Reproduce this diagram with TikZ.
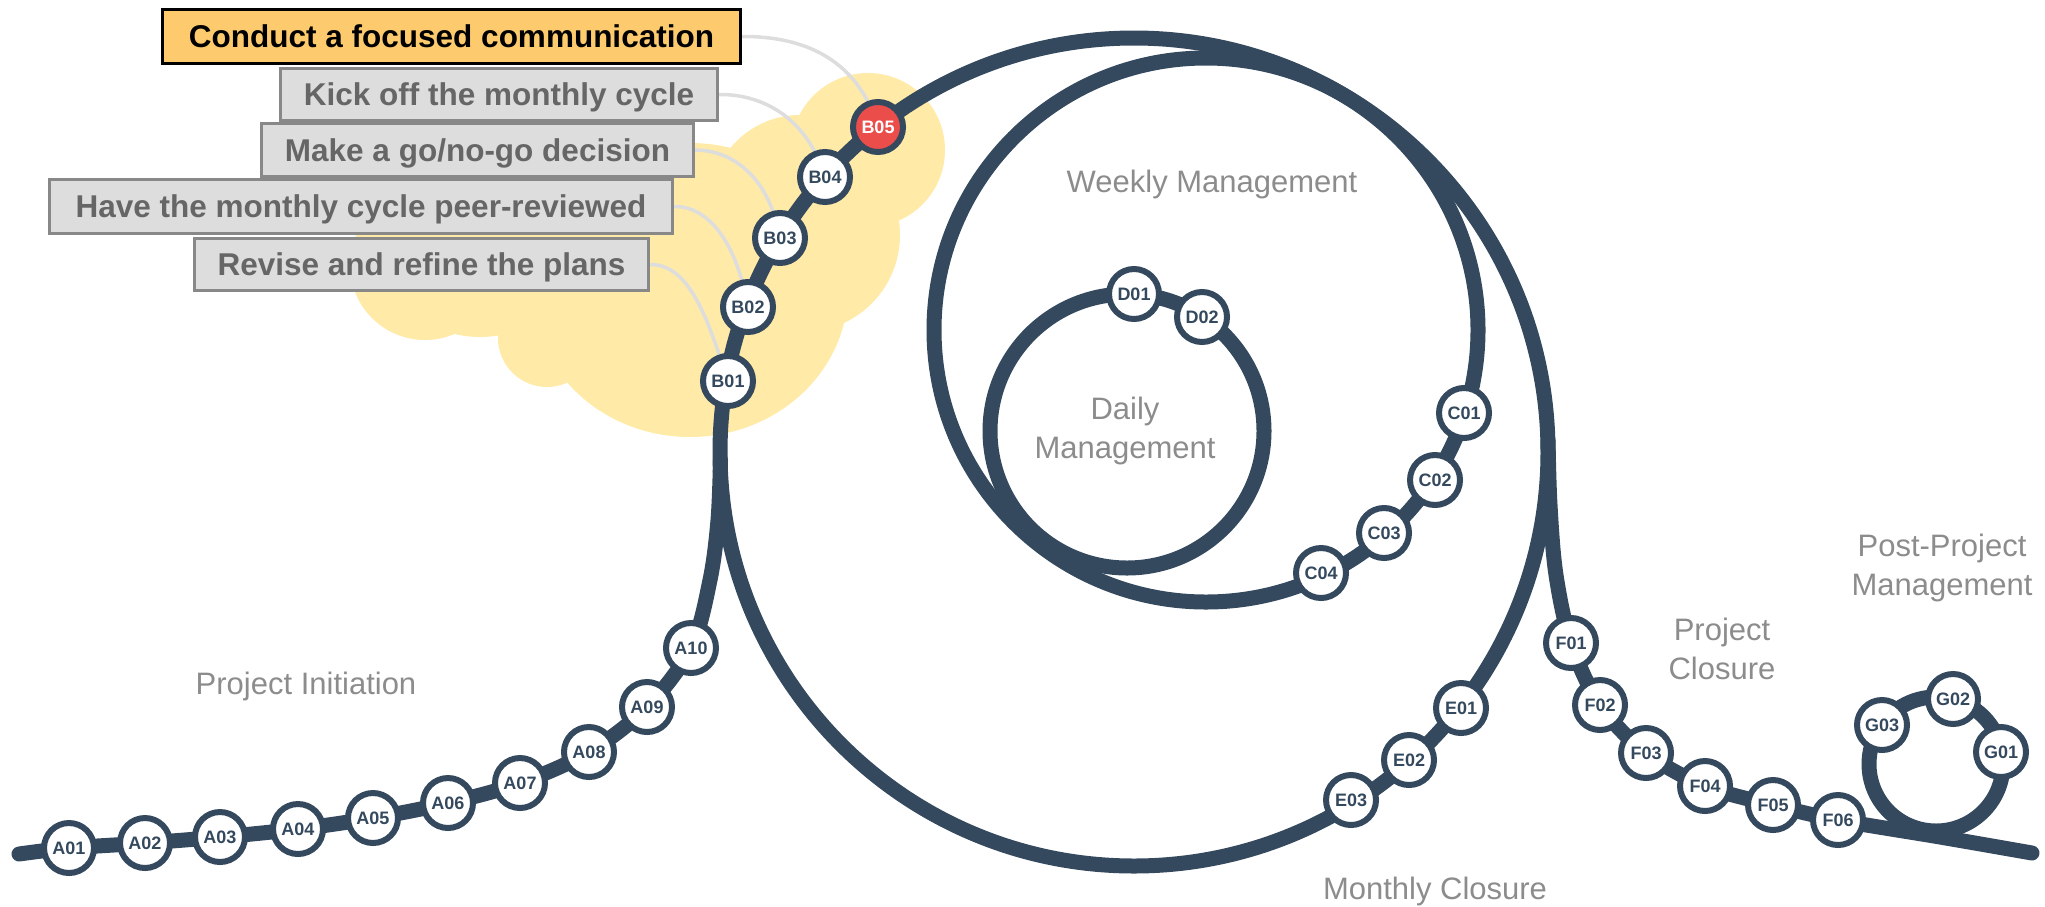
\documentclass[tikz,border=0pt]{standalone}
\usepackage{fontspec}
\setmainfont{Liberation Sans}
\definecolor{trackc}{HTML}{34495E}
\definecolor{redst}{HTML}{EB4D4B}
\definecolor{cloudc}{HTML}{FFEAA7}
\definecolor{hilite}{HTML}{FDCB6E}
\definecolor{boxfill}{HTML}{DDDDDD}
\definecolor{boxedge}{HTML}{888888}
\definecolor{boxtext}{HTML}{666666}
\definecolor{linkc}{HTML}{DDDDDD}
\definecolor{phasec}{HTML}{8C8C8C}
\pgfdeclarelayer{cloudl}
\pgfdeclarelayer{linkl}
\pgfdeclarelayer{trackl}
\pgfsetlayers{cloudl,linkl,trackl,main}
\begin{document}
\begin{tikzpicture}[x=1pt,y=-1pt,
  track/.style={draw=trackc,line width=15pt,line cap=round},
  station/.style={circle,draw=trackc,line width=6pt,fill=white,minimum size=50pt,inner sep=0pt,text=trackc,font=\fontsize{18}{18}\selectfont\bfseries},
  redstation/.style={station,fill=redst,text=white},
  taskbox/.style={draw=boxedge,line width=3pt,fill=boxfill,text=boxtext,inner sep=0pt,text height=22.5pt,text depth=0pt,font=\fontsize{31.5}{36}\selectfont\bfseries},
  focusbox/.style={taskbox,draw=black,fill=hilite,text=black},
  link/.style={draw=linkc,line width=3.5pt},
  phase/.style={text=phasec,font=\fontsize{31}{39}\selectfont,align=center,inner sep=0pt}
]
\useasboundingbox (0,0) rectangle (2045,906);

% loop centres and free ends
\coordinate (mc) at (1134,452);
\coordinate (wc) at (1206,330);
\coordinate (dc) at (1127,431);
\coordinate (gc) at (1936,764);
\coordinate (aStart) at (19,854);
\coordinate (aJ1) at (710,580);
\coordinate (aJ2) at (718,520);
\coordinate (aJ3) at (720.5,460);
\coordinate (fS1) at (1548,440);
\coordinate (fS2) at (1550,505);
\coordinate (fS3) at (1556,575);
\coordinate (fT1) at (1940,837);
\coordinate (fEnd) at (2032,853);

% stations
\node[station] (A01) at (69,848) {A01};
\node[station] (A02) at (145,843) {A02};
\node[station] (A03) at (220,837) {A03};
\node[station] (A04) at (298,829) {A04};
\node[station] (A05) at (373,818) {A05};
\node[station] (A06) at (448,803) {A06};
\node[station] (A07) at (520,783) {A07};
\node[station] (A08) at (589,752) {A08};
\node[station] (A09) at (647,707) {A09};
\node[station] (A10) at (691,648) {A10};
\node[station] (B01) at (728,381) {B01};
\node[station] (B02) at (748,307) {B02};
\node[station] (B03) at (780,238) {B03};
\node[station] (B04) at (825,177) {B04};
\node[redstation] (B05) at (878,127) {B05};
\node[station] (C01) at (1464,413) {C01};
\node[station] (C02) at (1435,480) {C02};
\node[station] (C03) at (1384,533) {C03};
\node[station] (C04) at (1321,573) {C04};
\node[station] (D01) at (1134,294) {D01};
\node[station] (D02) at (1202,317) {D02};
\node[station] (E01) at (1461,708) {E01};
\node[station] (E02) at (1409,760) {E02};
\node[station] (E03) at (1351,800) {E03};
\node[station] (F01) at (1571,643) {F01};
\node[station] (F02) at (1600,705) {F02};
\node[station] (F03) at (1646,753) {F03};
\node[station] (F04) at (1705,786) {F04};
\node[station] (F05) at (1773,805) {F05};
\node[station] (F06) at (1838,820) {F06};
\node[station] (G01) at (2001,752) {G01};
\node[station] (G02) at (1953,699) {G02};
\node[station] (G03) at (1882,725) {G03};

% task boxes
\node[taskbox,minimum width=454pt,minimum height=52pt] (T1) at (421.5,264.5) {Revise and refine the plans};
\node[taskbox,minimum width=623pt,minimum height=54pt] (T2) at (361,206.5) {Have the monthly cycle peer-reviewed};
\node[taskbox,minimum width=432pt,minimum height=53pt] (T3) at (477.5,150) {Make a go/no-go decision};
\node[taskbox,minimum width=437pt,minimum height=52pt] (T4) at (499,94.5) {Kick off the monthly cycle};
\node[focusbox,minimum width=578pt,minimum height=54pt] (T5) at (451.5,36.5) {Conduct a focused communication};

% phase labels
\node[phase,anchor=base] (pinit) at (306,694) {Project Initiation};
\node[phase,anchor=base] (pweek) at (1212,192) {Weekly Management};
\node[phase] (pday) at (1125,431) {Daily\\Management};
\node[phase,anchor=base] (pmclose) at (1435,899) {Monthly Closure};
\node[phase] (pclose) at (1722,649) {Project\\Closure};
\node[phase] (ppost) at (1942,568) {Post-Project\\Management};

% cloud
\begin{pgfonlayer}{cloudl}
\fill[cloudc] (425,265) circle[radius=75pt]
  (480,230) circle[radius=107pt]
  (547,338) circle[radius=49pt]
  (690,290) ellipse[x radius=158pt,y radius=147pt]
  (800,205) circle[radius=90pt]
  (803,235) circle[radius=97pt]
  (868,150) circle[radius=77pt];
\end{pgfonlayer}

% connectors from task boxes to stations
\begin{pgfonlayer}{linkl}
\draw[link] (T5.east) .. controls (805,36) and (858,60) .. (B05.center);
\draw[link] (T4.east) .. controls (765,94) and (808,120) .. (B04.center);
\draw[link] (T3.east) .. controls (735,150) and (770,180) .. (B03.center);
\draw[link] (T2.east) .. controls (710,206) and (737,245) .. (B02.center);
\draw[link] (T1.east) .. controls (690,264) and (708,320) .. (B01.center);
\end{pgfonlayer}

% tracks
\begin{pgfonlayer}{trackl}
\draw[track] (mc) circle[radius=414pt];
\draw[track] (wc) circle[radius=272pt];
\draw[track] (dc) circle[radius=137pt];
\draw[track] (gc) circle[radius=67pt];
\draw[track] plot[smooth,tension=0.55] coordinates {(aStart) (A01.center) (A02.center) (A03.center) (A04.center) (A05.center) (A06.center) (A07.center) (A08.center) (A09.center) (A10.center) (aJ1) (aJ2) (aJ3)};
\draw[track] plot[smooth,tension=0.55] coordinates {(fS1) (fS2) (fS3) (F01.center) (F02.center) (F03.center) (F04.center) (F05.center) (F06.center) (fT1) (fEnd)};
\end{pgfonlayer}
\end{tikzpicture}
\end{document}
